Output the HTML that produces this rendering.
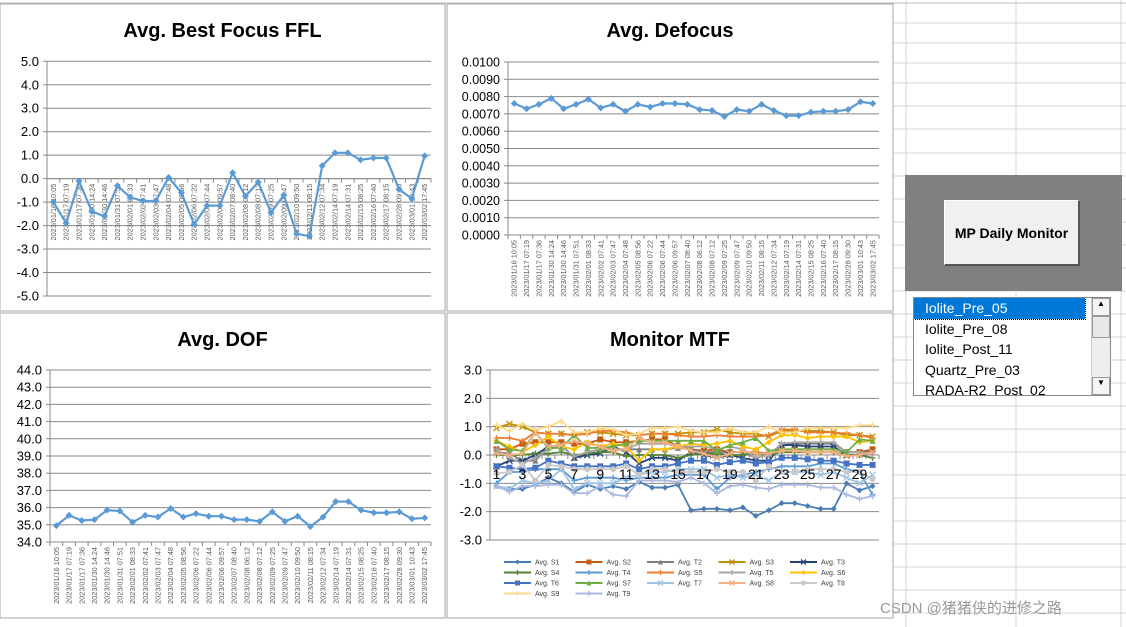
<!DOCTYPE html>
<html><head><meta charset="utf-8"><style>
body{margin:0;width:1126px;height:627px;overflow:hidden;background:#fff;font-family:"Liberation Sans",Arial,sans-serif;position:relative}
svg{position:absolute;left:0;top:0}
.btn{position:absolute;left:944px;top:200px;width:136px;height:66px;background:#f0f0f0;border:1px solid #fff;border-right:2px solid #555;border-bottom:2px solid #555;box-sizing:border-box;font-weight:bold;font-size:14px;display:flex;align-items:center;justify-content:center}
.lst{position:absolute;left:913px;top:297px;width:198px;height:99px;border:1px solid #888;box-sizing:border-box;background:#fff;overflow:hidden;font-size:14px}
.it{height:20.5px;line-height:20px;padding-left:11px;white-space:nowrap}
.sb{position:absolute;right:0;top:0;width:18px;height:97px;background:#eee;border-left:1px solid #ccc}
</style></head><body>
<svg id="s" width="1126" height="627"></svg>
<div style="position:absolute;left:905px;top:175px;width:217px;height:116px;background:#808080"></div>
<div class="btn">MP Daily Monitor</div>
<div class="lst">
<div class="it" style="background:#0078d7;color:#fff;width:160px;outline:1px dotted #000">Iolite_Pre_05</div>
<div class="it">Iolite_Pre_08</div>
<div class="it">Iolite_Post_11</div>
<div class="it">Quartz_Pre_03</div>
<div class="it">RADA-R2_Post_02</div>
<div class="sb"><div style="height:16px;border:1px solid #999;background:#f4f4f4;font-size:8px;text-align:center">▲</div><div style="height:20px;border:1px solid #999;background:#e8e8e8"></div><div style="position:absolute;bottom:0;width:16px;height:16px;border:1px solid #999;background:#f4f4f4;font-size:8px;text-align:center">▼</div></div>
</div>
<div style="position:absolute;left:880px;top:597px;font-size:15px;color:#999;font-family:'Liberation Sans','Noto Sans CJK SC',sans-serif">CSDN @猪猪侠的进修之路</div>
<script>
const dates=["2023/01/16 10:05","2023/01/17 07:19","2023/01/17 07:36","2023/01/30 14:24","2023/01/30 14:46","2023/01/31 07:51","2023/02/01 08:33","2023/02/02 07:41","2023/02/03 07:47","2023/02/04 07:48","2023/02/05 08:56","2023/02/06 07:22","2023/02/06 07:44","2023/02/06 09:57","2023/02/07 08:40","2023/02/08 06:12","2023/02/08 07:12","2023/02/09 07:25","2023/02/09 07:47","2023/02/10 09:50","2023/02/11 08:15","2023/02/12 07:34","2023/02/14 07:19","2023/02/14 07:31","2023/02/15 08:25","2023/02/16 07:40","2023/02/17 08:15","2023/02/28 09:30","2023/03/01 10:43","2023/03/02 17:45"];
const ffl=[-1.0,-1.9,-0.1,-1.4,-1.6,-0.3,-0.8,-0.95,-0.95,0.05,-0.6,-1.95,-1.15,-1.15,0.25,-0.75,-0.15,-1.45,-0.7,-2.35,-2.45,0.55,1.1,1.1,0.8,0.88,0.88,-0.45,-0.85,0.97];
const defocus=[0.0076,0.0073,0.00755,0.0079,0.0073,0.00755,0.00785,0.00735,0.00755,0.00715,0.00755,0.0074,0.0076,0.0076,0.00755,0.00725,0.0072,0.00685,0.00725,0.00715,0.00755,0.0072,0.0069,0.0069,0.0071,0.00715,0.00715,0.00725,0.0077,0.0076];
const dof=[34.95,35.55,35.25,35.3,35.85,35.8,35.15,35.55,35.45,35.95,35.45,35.65,35.5,35.5,35.3,35.3,35.2,35.75,35.2,35.5,34.9,35.45,36.35,36.35,35.85,35.7,35.7,35.75,35.35,35.4];
const fflTicks=["5.0","4.0","3.0","2.0","1.0","0.0","-1.0","-2.0","-3.0","-4.0","-5.0"];
const defTicks=["0.0100","0.0090","0.0080","0.0070","0.0060","0.0050","0.0040","0.0030","0.0020","0.0010","0.0000"];
const dofTicks=["44.0","43.0","42.0","41.0","40.0","39.0","38.0","37.0","36.0","35.0","34.0"];
const mtfTicks=["3.0","2.0","1.0","0.0","-1.0","-2.0","-3.0"];
const mtfNames=["Avg. S1","Avg. S2","Avg. T2","Avg. S3","Avg. T3","Avg. S4","Avg. T4","Avg. S5","Avg. T5","Avg. S6","Avg. T6","Avg. S7","Avg. T7","Avg. S8","Avg. T8","Avg. S9","Avg. T9"];
const S1=[-1.1,-1.2,-1.2,-1.05,-0.8,-1.0,-1.3,-1.05,-1.2,-1.1,-1.2,-0.95,-1.15,-1.15,-1.05,-1.95,-1.9,-1.9,-1.95,-1.85,-2.15,-1.95,-1.7,-1.7,-1.8,-1.9,-1.9,-1.0,-1.25,-1.1];
const S2=[0.2,0.2,0.4,0.45,0.45,0.45,0.4,0.4,0.55,0.45,0.45,0.5,0.55,0.55,0.3,0.2,0.15,0.2,0.1,0.1,0.1,0.05,0.2,0.2,0.2,0.2,0.2,0.1,0.1,0.2];
const T2=[0.1,0.05,-0.2,-0.2,0.3,0.35,-0.1,0.1,0.2,0.2,0.2,0.2,0.2,0.2,0.25,0.2,0.1,0.1,0.1,0.1,-0.1,0.0,0.4,0.4,0.4,0.4,0.4,0.1,0.1,0.1];
const S3=[0.95,1.1,1.0,0.8,0.75,0.75,0.7,0.8,0.8,0.75,0.7,0.7,0.75,0.75,0.75,0.8,0.8,0.9,0.8,0.75,0.75,0.65,0.85,0.85,0.85,0.85,0.8,0.7,0.7,0.65];
const T3=[-0.4,-0.2,-0.2,0.0,0.3,0.35,-0.1,0.0,0.05,0.3,0.1,-0.3,-0.1,-0.1,-0.2,0.1,0.0,-0.1,0.0,-0.1,-0.2,-0.2,0.35,0.35,0.3,0.3,0.3,0.0,0.0,0.1];
const S4=[0.0,0.0,0.0,0.05,0.05,0.1,0.0,0.05,0.1,0.1,-0.05,0.0,0.0,0.0,-0.1,0.0,0.05,0.05,0.0,0.0,0.05,0.0,0.1,0.1,0.1,0.1,0.1,0.0,0.0,-0.1];
const T4=[-1.0,-0.6,-0.6,-0.5,-0.5,-0.5,-0.9,-0.8,-0.8,-0.8,-0.9,-0.8,-0.8,-0.8,-0.7,-0.7,-0.7,-1.2,-0.8,-0.7,-0.6,-0.5,-0.4,-0.4,-0.4,-0.3,-0.3,-0.5,-0.6,-1.4];
const S5=[0.6,0.6,0.5,0.8,0.75,0.75,0.7,0.75,0.85,0.85,0.8,0.7,0.75,0.75,0.7,0.65,0.65,0.7,0.65,0.65,0.65,0.7,0.9,0.9,0.8,0.8,0.8,0.75,0.7,0.6];
const T5=[0.2,-0.1,-0.3,-0.1,0.2,0.3,-0.05,0.1,0.2,0.2,0.2,0.4,0.4,0.4,0.3,0.3,0.3,0.2,0.3,0.2,-0.1,0.0,0.4,0.45,0.45,0.45,0.45,0.1,0.1,0.0];
const S6=[0.5,0.3,0.1,0.35,0.65,0.3,0.2,0.45,0.3,0.4,0.3,-0.2,0.2,0.2,0.3,0.4,0.35,0.4,0.5,0.3,0.2,0.45,0.7,0.7,0.6,0.65,0.65,0.65,0.45,0.5];
const T6=[-0.4,-0.45,-0.5,-0.45,-0.2,-0.3,-0.4,-0.4,-0.4,-0.4,-0.3,-0.5,-0.4,-0.4,-0.3,-0.2,-0.2,-0.35,-0.25,-0.2,-0.3,-0.25,-0.1,-0.1,-0.15,-0.2,-0.2,-0.3,-0.35,-0.35];
const S7=[0.5,0.2,0.15,0.8,0.25,0.25,0.7,0.25,0.25,0.3,0.4,0.5,0.5,0.5,0.5,0.5,0.5,0.15,0.35,0.45,0.6,0.15,0.2,0.2,0.2,0.2,0.2,0.1,0.55,0.5];
const T7=[-1.1,-1.2,-0.9,-1.0,-0.9,-0.5,-1.2,-1.0,-1.0,-1.0,-0.8,-0.7,-0.6,-0.6,-0.5,-0.5,-0.5,-0.8,-0.7,-0.8,-0.7,-0.9,-0.6,-0.6,-0.6,-0.7,-0.6,-0.8,-1.0,-0.7];
const S8=[0.05,0.0,0.05,0.8,0.3,0.35,0.5,0.4,0.3,0.15,0.2,0.6,0.45,0.45,0.3,0.15,0.05,-0.1,0.05,0.15,0.05,0.05,0.15,0.15,0.1,0.1,0.1,-0.05,0.0,0.1];
const T8=[-0.65,-0.6,-0.35,-0.9,-0.35,-0.4,-0.5,-0.5,-0.5,-0.5,-0.4,-0.7,-0.5,-0.5,-0.6,-0.6,-0.6,-0.5,-0.6,-0.6,-0.9,-0.4,-0.6,-0.6,-0.5,-0.5,-0.5,-0.6,-0.6,-0.85];
const S9=[1.05,0.85,1.1,0.9,1.0,1.2,0.8,0.8,0.95,0.9,0.7,0.75,0.95,0.95,1.0,0.85,0.8,0.8,0.95,0.8,0.8,1.0,0.8,0.8,0.95,0.95,0.95,0.95,1.05,1.05];
const T9=[-1.1,-1.3,-1.1,-1.1,-1.05,-1.05,-1.35,-1.35,-1.1,-1.4,-1.45,-0.9,-0.9,-0.9,-0.95,-0.8,-1.0,-1.35,-1.1,-1.05,-1.15,-1.2,-1.05,-1.05,-1.05,-1.15,-1.15,-1.4,-1.55,-1.45];
const mtfSeries=[S1,S2,T2,S3,T3,S4,T4,S5,T5,S6,T6,S7,T7,S8,T8,S9,T9];
const mtfColors=["#4a7db5","#c55a11","#7f7f7f","#bf9000","#264478","#548235","#5b9bd5","#ed7d31","#a5a5a5","#ffc000","#4472c4","#70ad47","#9dc3e6","#f4b183","#c9c9c9","#ffd98a","#a9b8e0"];
const mtfMarks=["d","s","t","x","x","p","p","p","p","d","s","t","x","x","c","p","p"];

const NS="http://www.w3.org/2000/svg";
const svg=document.getElementById('s');
function el(t,a,p){const e=document.createElementNS(NS,t);for(const k in a)e.setAttribute(k,a[k]);(p||svg).appendChild(e);return e;}

const rows=[23,43,63,83,106,129,153,176,199,222,245,268,291,314,337,360,383,406,429,452,475,498,521,544,567,590,613];
for(const y of rows){const l=el('line',{x1:893,x2:1126,y1:y,y2:y,stroke:'#d4d4d4'});}
for(const x of [906,1016,1121]){const l=el('line',{x1:x,x2:x,y1:0,y2:627,stroke:'#d4d4d4'});}
el('line',{x1:0,x2:1126,y1:3,y2:3,stroke:'#bbb'});

function marker(g,m,x,y,c,r){
  if(m==='d')el('path',{d:`M${x} ${y-r}L${x+r} ${y}L${x} ${y+r}L${x-r} ${y}Z`,fill:c},g);
  else if(m==='s')el('rect',{x:x-r,y:y-r,width:2*r,height:2*r,fill:c},g);
  else if(m==='t')el('path',{d:`M${x} ${y-r}L${x+r} ${y+r}L${x-r} ${y+r}Z`,fill:c},g);
  else if(m==='c')el('circle',{cx:x,cy:y,r:r,fill:c},g);
  else if(m==='x')el('path',{d:`M${x-r} ${y-r}L${x+r} ${y+r}M${x-r} ${y+r}L${x+r} ${y-r}`,stroke:c,'stroke-width':1.3},g);
  else el('path',{d:`M${x-r} ${y}L${x+r} ${y}M${x} ${y-r}L${x} ${y+r}`,stroke:c,'stroke-width':1.3},g);
}

function chart(o){
  const g=el('g',{});
  
  
  el('rect',{x:o.px,y:o.py,width:o.pw,height:o.ph,fill:'#fff',stroke:'#a6a6a6'},g);
  const t=el('text',{x:o.px+o.pw/2,y:o.py+33,'text-anchor':'middle','font-size':20,'font-weight':'bold',fill:'#000'},g);
  t.textContent=o.title;
  const n=o.ticks.length;
  const ys=v=>o.y0+(o.max-v)/(o.max-o.min)*(o.y1-o.y0);
  const N=o.cats;
  const xs=i=>o.x0+(i+0.5)*(o.x1-o.x0)/N;
  o.ticks.forEach((lab,i)=>{
    const y=o.y0+i*(o.y1-o.y0)/(n-1);
    el('line',{x1:o.x0,x2:o.x1,y1:y,y2:y,stroke:'#898989','stroke-width':1},g);
    el('line',{x1:o.x0-4,x2:o.x0,y1:y,y2:y,stroke:'#898989'},g);
    const tx=el('text',{x:o.x0-8,y:y+4.5,'text-anchor':'end','font-size':o.tfs,fill:'#000'},g);
    tx.textContent=lab;
  });
  el('line',{x1:o.x0,x2:o.x0,y1:o.y0,y2:o.y1,stroke:'#898989'},g);
  const ay=ys(o.axisAt);
  el('line',{x1:o.x0,x2:o.x1,y1:ay,y2:ay,stroke:'#898989'},g);
  for(let i=0;i<=N;i++){const x=o.x0+i*(o.x1-o.x0)/N;el('line',{x1:x,x2:x,y1:ay,y2:ay+4,stroke:'#898989'},g);}
  if(o.labels){o.labels.forEach((lab,i)=>{
    const x=xs(i)+2.5,y=ay+5;
    const tx=el('text',{x:x,y:y,transform:`rotate(-90 ${x} ${y})`,'text-anchor':'end','font-size':7.3,fill:'#595959'},g);
    tx.textContent=lab;
  });}
  o.series.forEach((d,si)=>{
    const c=o.colors[si];
    const p=el('polyline',{points:d.map((v,i)=>xs(i)+','+ys(v)).join(' '),fill:'none',stroke:c,'stroke-width':o.lw},g);
    
    d.forEach((v,i)=>marker(g,o.marks[si],xs(i),ys(v),c,o.mr));
  });
  if(o.numLabels){for(let i=0;i<N;i+=2){const tx=el('text',{x:xs(i),y:ay+24,'text-anchor':'middle','font-size':14,fill:'#000'},g);tx.textContent=String(i+1);}}
  return g;
}
chart({name:'best-focus-ffl-chart',title:'Avg. Best Focus FFL',px:0,py:4,pw:445,ph:307,x0:47,x1:431,y0:61.3,y1:296,max:5,min:-5,ticks:fflTicks,tfs:13,cats:30,axisAt:0,labels:dates,series:[ffl],colors:['#5b9bd5'],marks:['d'],lw:2.2,mr:3.5});
chart({name:'defocus-chart',title:'Avg. Defocus',px:447,py:4,pw:446,ph:307,x0:508,x1:879,y0:62,y1:235,max:0.01,min:0,ticks:defTicks,tfs:12.5,cats:30,axisAt:0,labels:dates,series:[defocus],colors:['#5b9bd5'],marks:['d'],lw:2.2,mr:3.5});
chart({name:'dof-chart',title:'Avg. DOF',px:0,py:313,pw:445,ph:305,x0:50,x1:431,y0:370,y1:542,max:44,min:34,ticks:dofTicks,tfs:13,cats:30,axisAt:34,labels:dates,series:[dof],colors:['#5b9bd5'],marks:['d'],lw:2.2,mr:3.5});
chart({name:'monitor-mtf-chart',title:'Monitor MTF',px:447,py:313,pw:446,ph:305,x0:490,x1:879,y0:370,y1:540,max:3,min:-3,ticks:mtfTicks,tfs:13,cats:30,axisAt:0,numLabels:true,series:mtfSeries,colors:mtfColors,marks:mtfMarks,lw:1.8,mr:3});

mtfNames.forEach((nm,i)=>{
  const col=i%5,row=Math.floor(i/5);
  const x=504+col*71.5,y=562+row*10.5;
  const g=el('g',{});
  
  
  el('line',{x1:x,x2:x+27,y1:y,y2:y,stroke:mtfColors[i],'stroke-width':2},g);
  marker(g,mtfMarks[i],x+13.5,y,mtfColors[i],2.5);
  const t=el('text',{x:x+31,y:y+2.5,'font-size':7,fill:'#404040'},g);t.textContent=nm;
});
</script>
</body></html>
